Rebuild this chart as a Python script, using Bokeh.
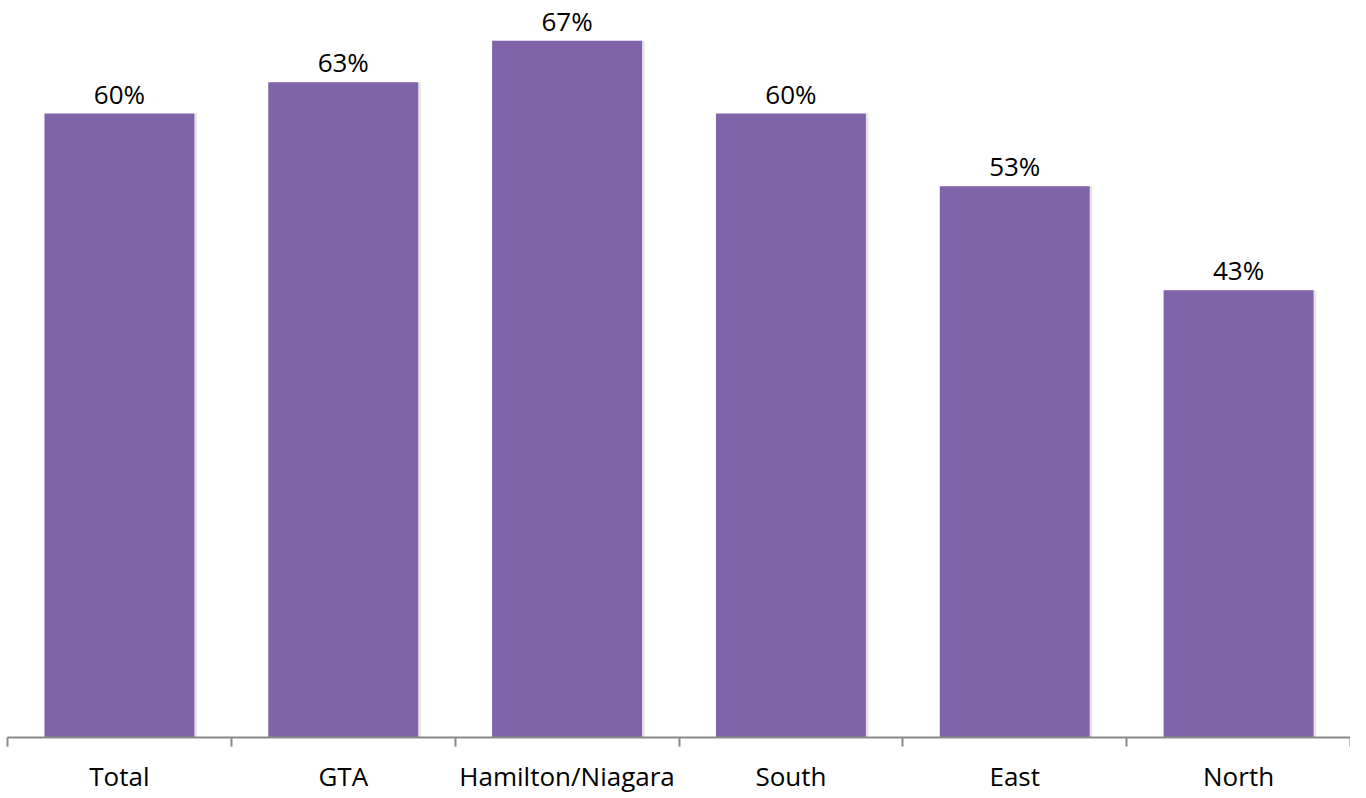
from bokeh.plotting import figure
from bokeh.models import Range1d, FixedTicker, ColumnDataSource
from bokeh.transform import dodge
from bokeh.core.properties import value
from bokeh.embed import file_html
from bokeh.resources import INLINE

categories = ["Total", "GTA", "Hamilton/Niagara", "South", "East", "North"]
percent_values = [60, 63, 67, 60, 53, 43]
value_labels = ["60%", "63%", "67%", "60%", "53%", "43%"]

FONT = "Open Sans"
BAR_COLOR = "#7F64AA"
AXIS_COLOR = "#8A8A8A"

xs = [i + 0.5 for i in range(len(categories))]
src = ColumnDataSource(dict(x=xs, top=percent_values, label=value_labels, cat=categories))

p = figure(frame_width=1343, frame_height=737, output_backend="svg", toolbar_location=None,
           x_range=Range1d(0, len(categories)), y_range=Range1d(0, 70.87),
           min_border_left=7, min_border_right=0, min_border_top=0, min_border_bottom=40)

p.outline_line_color = None
p.xgrid.visible = False
p.ygrid.visible = False
p.yaxis.visible = False
p.background_fill_color = "white"
p.border_fill_color = "white"

# soft shadow
p.vbar(x=dodge("x", 0.012, range=p.x_range), top="top", bottom=0, width=0.67, source=src,
       fill_color="#000000", fill_alpha=0.10, line_color=None)
p.vbar(x="x", top="top", bottom=0, width=0.67, source=src,
       fill_color=BAR_COLOR, line_color=None)

p.text(x="x", y="top", text="label", source=src, text_align="center",
       text_baseline="alphabetic", y_offset=-20, text_font=value(FONT),
       text_font_size="26px", text_color="#000000")

ax = p.xaxis[0]
ax.ticker = FixedTicker(ticks=xs, minor_ticks=list(range(len(categories) + 1)))
ax.major_label_overrides = {x: c for x, c in zip(xs, categories)}
ax.major_tick_line_color = None
ax.major_tick_out = 0
ax.major_tick_in = 0
ax.minor_tick_line_color = AXIS_COLOR
ax.minor_tick_line_width = 2
ax.minor_tick_out = 9
ax.minor_tick_in = 0
ax.axis_line_color = AXIS_COLOR
ax.axis_line_width = 2
ax.major_label_text_font = FONT
ax.major_label_text_font_size = "26px"
ax.major_label_text_color = "#000000"
ax.major_label_standoff = 11

open("out.html", "w").write(file_html(p, INLINE))
